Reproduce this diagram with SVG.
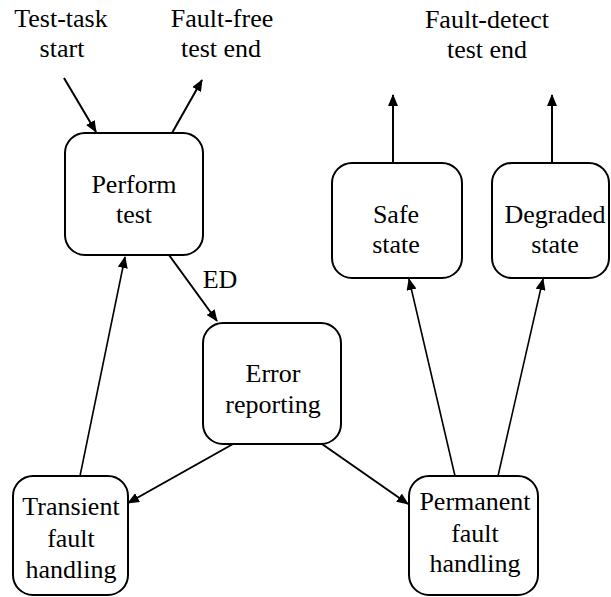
<svg xmlns="http://www.w3.org/2000/svg" width="611" height="597" viewBox="0 0 611 597">
  <defs>
    <marker id="arrow" viewBox="0 0 12 10" refX="11" refY="5" markerWidth="12" markerHeight="10" markerUnits="userSpaceOnUse" orient="auto">
      <path d="M0,0 L12,5 L0,10 Z" fill="#000"/>
    </marker>
  </defs>
  <style>
    .box { fill: #fff; stroke: #000; stroke-width: 2; }
    .lbl { font-family: 'Liberation Serif', 'DejaVu Serif', 'Times New Roman', serif; font-size: 26px; fill: #000; text-anchor: middle; }
    .edge { fill: none; stroke: #000; stroke-width: 2; marker-end: url(#arrow); }
    .plain { fill: none; stroke: #000; stroke-width: 1.6; marker-end: url(#arrow); }
  </style>
  <rect width="611" height="597" fill="#fff"/>

  <!-- free-standing labels -->
  <g id="labels" font-family="Liberation Serif, DejaVu Serif, serif">
    <text class="lbl" x="61" y="27">Test-task</text>
    <text class="lbl" x="62" y="57">start</text>
    <text class="lbl" x="222" y="27">Fault-free</text>
    <text class="lbl" x="221" y="57">test end</text>
    <text class="lbl" x="487" y="28">Fault-detect</text>
    <text class="lbl" x="487" y="58">test end</text>
    <text class="lbl" x="220" y="288">ED</text>
  </g>

  <!-- connectors -->
  <g id="connectors">
    <line class="edge" x1="64" y1="78" x2="96" y2="132"/>
    <line class="edge" x1="172" y1="133" x2="202" y2="80"/>
    <line class="edge" x1="169" y1="255" x2="217" y2="321"/>
    <line class="plain" x1="80" y1="476" x2="125" y2="257"/>
    <line class="edge" x1="233" y1="444" x2="128" y2="503"/>
    <line class="edge" x1="322" y1="444" x2="408" y2="504"/>
    <line class="plain" x1="455" y1="476" x2="409" y2="279"/>
    <line class="plain" x1="498" y1="476" x2="543" y2="279"/>
    <line class="edge" x1="393" y1="163" x2="393" y2="95"/>
    <line class="edge" x1="552" y1="163" x2="552" y2="95"/>
  </g>

  <g id="perform-test">
    <rect class="box" x="65" y="133" width="138" height="122" rx="20"/>
    <text class="lbl" x="134" y="193">Perform</text>
    <text class="lbl" x="134" y="223">test</text>
  </g>

  <g id="safe-state">
    <rect class="box" x="332" y="163" width="130" height="115" rx="20"/>
    <text class="lbl" x="396" y="223">Safe</text>
    <text class="lbl" x="396" y="253">state</text>
  </g>

  <g id="degraded-state">
    <rect class="box" x="492" y="163" width="117" height="115" rx="20"/>
    <text class="lbl" x="555" y="223">Degraded</text>
    <text class="lbl" x="555" y="253">state</text>
  </g>

  <g id="error-reporting">
    <rect class="box" x="203" y="323" width="138" height="121" rx="20"/>
    <text class="lbl" x="273" y="382">Error</text>
    <text class="lbl" x="273" y="413">reporting</text>
  </g>

  <g id="transient-fault-handling">
    <rect class="box" x="13" y="476" width="115" height="119" rx="20"/>
    <text class="lbl" x="71" y="515">Transient</text>
    <text class="lbl" x="71" y="547">fault</text>
    <text class="lbl" x="71" y="578">handling</text>
  </g>

  <g id="permanent-fault-handling">
    <rect class="box" x="409" y="476" width="129" height="119" rx="20"/>
    <text class="lbl" x="475" y="510">Permanent</text>
    <text class="lbl" x="475" y="542">fault</text>
    <text class="lbl" x="475" y="572">handling</text>
  </g>
</svg>
